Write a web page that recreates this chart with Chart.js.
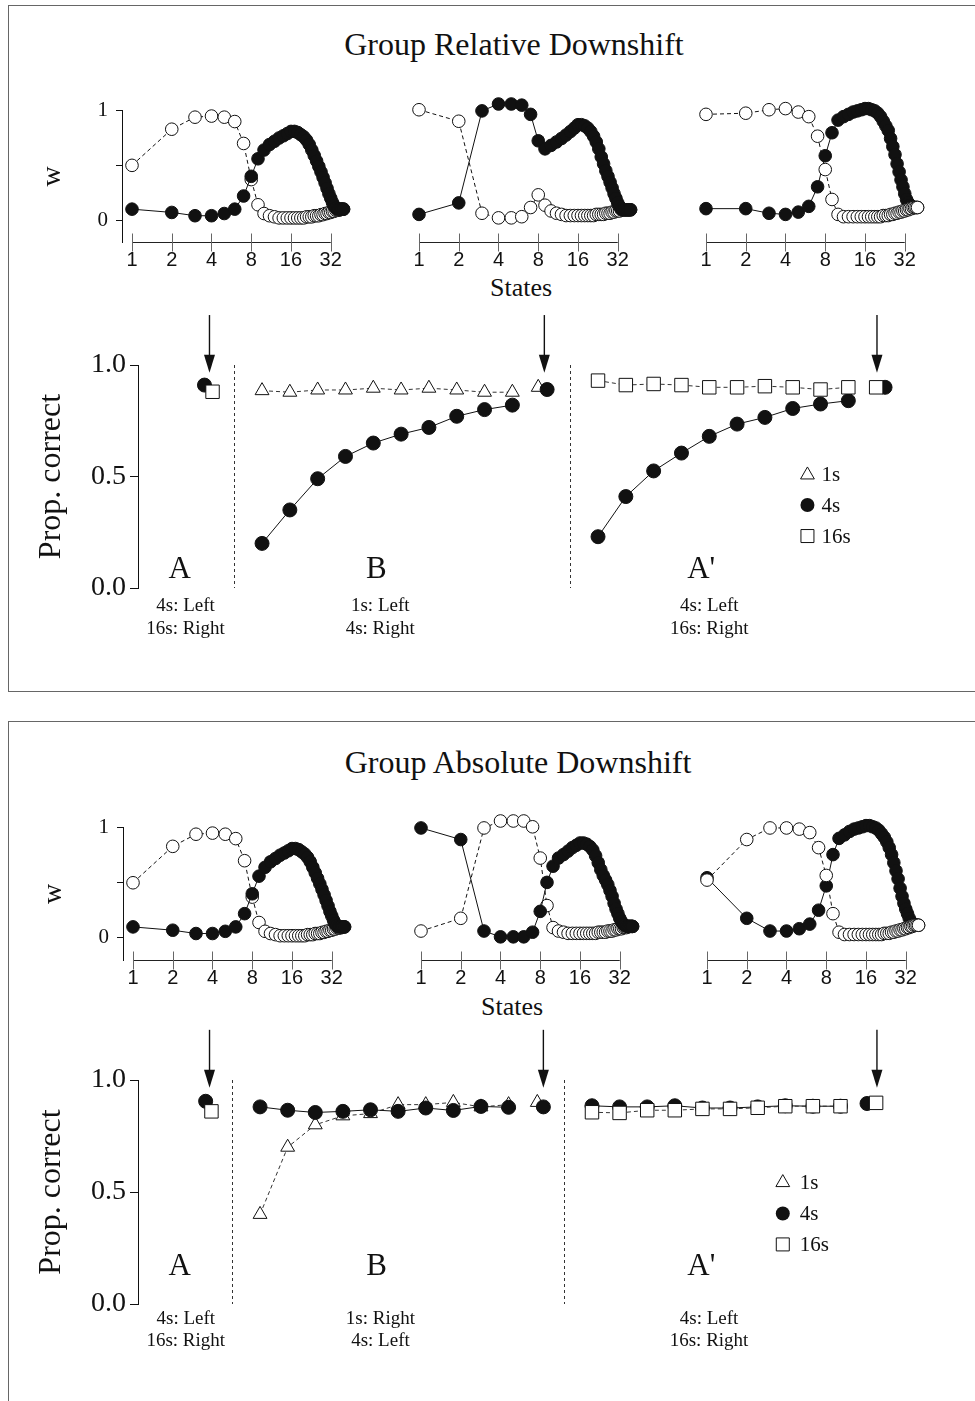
<!DOCTYPE html>
<html>
<head>
<meta charset="utf-8">
<title>Group Relative / Absolute Downshift</title>
<script src="https://cdn.jsdelivr.net/npm/chart.js@4.4.1/dist/chart.umd.min.js"></script>
<style>
  html, body { margin: 0; padding: 0; background: #fff; }
  body { position: relative; width: 975px; height: 1401px; overflow: hidden; font-family: "Liberation Serif", "Times New Roman", serif; color: #111; }
  .panel { position: absolute; left: 8px; width: 990px; border: 1px solid #666; }
  .label { position: absolute; transform: translate(-50%, -50%); white-space: nowrap; }
  .title { font-size: 32px; }
  .states { font-size: 26px; }
  canvas { position: absolute; }
</style>
</head>
<body>
<div class="panel" style="top:5px;height:685px"></div>
<div class="panel" style="top:721px;height:700px"></div>

<div class="label title" style="left:514px;top:44px">Group Relative Downshift</div>
<div class="label states" style="left:521px;top:288px">States</div>
<div class="label title" style="left:518px;top:762px">Group Absolute Downshift</div>
<div class="label states" style="left:512px;top:1007px">States</div>

<canvas id="relWA"  width="332" height="192" style="left:30px;top:90px"></canvas>
<canvas id="relWB"  width="332" height="192" style="left:317px;top:90px"></canvas>
<canvas id="relWA2" width="332" height="192" style="left:604px;top:90px"></canvas>
<canvas id="relProp" width="947" height="343" style="left:18px;top:305px"></canvas>

<canvas id="absWA"  width="332" height="193" style="left:31px;top:807px"></canvas>
<canvas id="absWB"  width="332" height="193" style="left:319px;top:807px"></canvas>
<canvas id="absWA2" width="332" height="193" style="left:605px;top:807px"></canvas>
<canvas id="absProp" width="947" height="344" style="left:18px;top:1020px"></canvas>

<script>
// ---- data ----
const states = [1, 2, 3, 4, 5, 6, 7, 8, 9, 10, 11, 12, 13, 14, 15, 16, 17, 18, 19, 20,
  21, 22, 23, 24, 25, 26, 27, 28, 29, 30, 31, 32, 33, 34, 35, 36, 37, 38, 39, 40];
const tickStates = [1, 2, 4, 8, 16, 32];
const wTicks = [0, 0.5, 1];
const propTicks = [0, 0.5, 1];

// w curves, phase A (same baseline in both groups)
const baseA_filled = [0.10, 0.07, 0.04, 0.04, 0.06, 0.10, 0.22, 0.40, 0.56, 0.64,
  0.69, 0.72, 0.75, 0.77, 0.79, 0.81, 0.81, 0.80, 0.78, 0.76,
  0.73, 0.69, 0.64, 0.59, 0.54, 0.49, 0.44, 0.39, 0.34, 0.29,
  0.24, 0.20, 0.16, 0.13, 0.11, 0.10, 0.10, 0.10, 0.10, 0.10];
const baseA_open = [0.50, 0.83, 0.94, 0.95, 0.94, 0.90, 0.70, 0.37, 0.14, 0.06,
  0.04, 0.03, 0.02, 0.02, 0.02, 0.02, 0.02, 0.02, 0.02, 0.02,
  0.03, 0.03, 0.03, 0.04, 0.04, 0.04, 0.05, 0.05, 0.06, 0.06,
  0.07, 0.07, 0.08, 0.08, 0.09, 0.09, 0.09, 0.10, 0.10, 0.10];

// relative downshift, phase B and A'
const relB_filled = [0.04, 0.14, 0.94, 1.00, 1.00, 0.99, 0.91, 0.68, 0.61, 0.64,
  0.67, 0.70, 0.73, 0.76, 0.79, 0.82, 0.82, 0.81, 0.79, 0.76,
  0.72, 0.67, 0.61, 0.54, 0.48, 0.42, 0.37, 0.32, 0.27, 0.22,
  0.18, 0.14, 0.11, 0.09, 0.08, 0.08, 0.08, 0.08, 0.08, 0.08];
const relB_open = [0.95, 0.85, 0.05, 0.01, 0.01, 0.02, 0.10, 0.21, 0.12, 0.07,
  0.05, 0.04, 0.03, 0.03, 0.03, 0.03, 0.03, 0.03, 0.03, 0.03,
  0.03, 0.04, 0.04, 0.04, 0.04, 0.05, 0.05, 0.05, 0.06, 0.06,
  0.07, 0.07, 0.07, 0.08, 0.08, 0.08, 0.08, 0.08, 0.08, 0.08];
const relA2_filled = [0.09, 0.09, 0.05, 0.04, 0.06, 0.11, 0.28, 0.55, 0.75, 0.86,
  0.89, 0.91, 0.93, 0.94, 0.95, 0.96, 0.96, 0.95, 0.94, 0.92,
  0.89, 0.85, 0.81, 0.77, 0.70, 0.63, 0.56, 0.48, 0.41, 0.34,
  0.28, 0.22, 0.17, 0.14, 0.12, 0.11, 0.10, 0.10, 0.10, 0.10];
const relA2_open = [0.91, 0.92, 0.95, 0.96, 0.93, 0.89, 0.72, 0.43, 0.17, 0.04,
  0.02, 0.02, 0.02, 0.02, 0.02, 0.02, 0.02, 0.02, 0.02, 0.02,
  0.02, 0.03, 0.03, 0.03, 0.04, 0.04, 0.05, 0.05, 0.06, 0.06,
  0.07, 0.07, 0.08, 0.08, 0.09, 0.09, 0.10, 0.10, 0.10, 0.10];

// absolute downshift, phase B and A'
const absB_filled = [0.94, 0.84, 0.05, 0.00, 0.00, 0.00, 0.04, 0.22, 0.47, 0.61,
  0.68, 0.71, 0.74, 0.77, 0.79, 0.81, 0.81, 0.80, 0.78, 0.75,
  0.70, 0.64, 0.58, 0.53, 0.49, 0.45, 0.40, 0.35, 0.29, 0.24,
  0.20, 0.16, 0.13, 0.11, 0.10, 0.09, 0.09, 0.09, 0.09, 0.09];
const absB_open = [0.05, 0.16, 0.94, 1.00, 1.00, 1.00, 0.95, 0.68, 0.27, 0.08,
  0.05, 0.04, 0.03, 0.03, 0.03, 0.03, 0.03, 0.03, 0.03, 0.03,
  0.03, 0.04, 0.04, 0.04, 0.04, 0.05, 0.05, 0.05, 0.06, 0.06,
  0.07, 0.07, 0.07, 0.08, 0.08, 0.08, 0.09, 0.09, 0.09, 0.09];
const absA2_filled = [0.51, 0.16, 0.05, 0.05, 0.07, 0.11, 0.23, 0.44, 0.71, 0.85,
  0.88, 0.91, 0.93, 0.94, 0.95, 0.96, 0.96, 0.95, 0.94, 0.92,
  0.89, 0.86, 0.82, 0.77, 0.71, 0.64, 0.57, 0.50, 0.42, 0.35,
  0.29, 0.24, 0.20, 0.16, 0.13, 0.11, 0.10, 0.10, 0.10, 0.10];
const absA2_open = [0.49, 0.84, 0.94, 0.94, 0.93, 0.90, 0.77, 0.53, 0.20, 0.04,
  0.02, 0.02, 0.02, 0.02, 0.02, 0.02, 0.02, 0.02, 0.02, 0.02,
  0.02, 0.03, 0.03, 0.03, 0.04, 0.04, 0.05, 0.05, 0.06, 0.06,
  0.07, 0.07, 0.08, 0.08, 0.09, 0.09, 0.10, 0.10, 0.10, 0.10];

// proportion correct, relative group
const relA_4s = [0.91];
const relA_16s = [0.88];
const relB_1s = [0.885, 0.878, 0.888, 0.888, 0.896, 0.888, 0.896, 0.888, 0.878, 0.878];
const relB_4s = [0.20, 0.35, 0.49, 0.59, 0.65, 0.69, 0.72, 0.77, 0.80, 0.82];
const relBend_1s = [0.90];
const relBend_4s = [0.89];
const relA2_16s = [0.93, 0.91, 0.915, 0.91, 0.90, 0.90, 0.905, 0.90, 0.89, 0.90];
const relA2_4s = [0.23, 0.41, 0.525, 0.605, 0.68, 0.735, 0.765, 0.805, 0.825, 0.84];
const relA2end_16s = [0.90];
const relA2end_4s = [0.90];

// proportion correct, absolute group
const absA_4s = [0.905];
const absA_16s = [0.86];
const absB_1s = [0.40, 0.70, 0.80, 0.84, 0.85, 0.89, 0.89, 0.90, 0.88, 0.89];
const absB_4s = [0.88, 0.865, 0.855, 0.86, 0.867, 0.86, 0.875, 0.864, 0.882, 0.878];
const absBend_1s = [0.90];
const absBend_4s = [0.88];
const absA2_16s = [0.856, 0.853, 0.865, 0.865, 0.871, 0.871, 0.876, 0.883, 0.883, 0.883];
const absA2_4s = [0.885, 0.88, 0.88, 0.885, 0.875, 0.875, 0.88, 0.885, 0.883, 0.883];
const absA2end_16s = [0.898];
const absA2end_4s = [0.895];

const phaseNames = ['A', 'B', "A'"];
const relKeys = [['4s: Left', '16s: Right'], ['1s: Left', '4s: Right'], ['4s: Left', '16s: Right']];
const absKeys = [['4s: Left', '16s: Right'], ['1s: Right', '4s: Left'], ['4s: Left', '16s: Right']];
const legendLabels = ['1s', '4s', '16s'];

// ---- setup ----
const SERIF = '"Liberation Serif", "Times New Roman", serif';
const SANS = '"Liberation Sans", Arial, sans-serif';
const INK = '#111';
Chart.defaults.animation = false;
Chart.defaults.color = INK;

// x axis of the state plots: line from 1 to 32, ticks crossing it
const stateAxis = {
  id: 'stateAxis',
  beforeDatasetsDraw(chart) {
    const { ctx, chartArea, scales: { x } } = chart;
    const y0 = Math.round(chartArea.bottom) + 0.5;
    ctx.save();
    ctx.strokeStyle = '#222';
    ctx.lineWidth = 1;
    ctx.beginPath();
    ctx.moveTo(x.getPixelForValue(1), y0);
    ctx.lineTo(x.getPixelForValue(32), y0);
    ctx.stroke();
    ctx.strokeStyle = '#666';
    tickStates.forEach(v => {
      const px = Math.round(x.getPixelForValue(v)) + 0.5;
      ctx.beginPath();
      ctx.moveTo(px, y0 - 9);
      ctx.lineTo(px, y0 + 9);
      ctx.stroke();
    });
    ctx.restore();
  }
};

function wChart(id, filled, open, showY, openOnTop) {
  const pts = arr => states.map((s, i) => ({ x: s, y: arr[i] }));
  const dsFilled = {
    data: pts(filled), showLine: true, clip: false,
    borderColor: INK, borderWidth: 1,
    pointRadius: 6.3, pointBackgroundColor: INK, pointBorderColor: INK, pointBorderWidth: 1
  };
  const dsOpen = {
    data: pts(open), showLine: true, clip: false,
    borderColor: INK, borderWidth: 1, borderDash: [4, 3],
    pointRadius: 6.3, pointBackgroundColor: '#fff', pointBorderColor: INK, pointBorderWidth: 1
  };
  new Chart(document.getElementById(id), {
    type: 'scatter',
    data: { datasets: openOnTop ? [dsOpen, dsFilled] : [dsFilled, dsOpen] },
    options: {
      responsive: false,
      events: [],
      layout: { padding: { top: 14, right: 8, left: 0, bottom: 0 } },
      plugins: { legend: { display: false }, tooltip: { enabled: false } },
      scales: {
        x: {
          type: 'logarithmic', min: 0.84, max: 48,
          afterBuildTicks: s => { s.ticks = tickStates.map(v => ({ value: v })); },
          afterFit: s => { s.height = 40; },
          grid: { display: false, drawTicks: false },
          border: { display: false },
          ticks: { callback: v => String(v), font: { family: SANS, size: 20 }, color: INK, padding: 6, maxRotation: 0, autoSkip: false }
        },
        y: {
          min: -0.2, max: 1,
          afterBuildTicks: s => { s.ticks = wTicks.map(v => ({ value: v })); },
          afterFit: s => { s.width = 92; },
          grid: { display: showY, drawOnChartArea: false, tickLength: 6, color: INK },
          border: { display: showY, color: INK },
          ticks: { display: showY, callback: v => (v === 0.5 ? '' : String(v)), font: { family: SERIF, size: 21 }, color: INK, padding: 8 },
          title: { display: showY, text: 'w', font: { family: SERIF, size: 28 }, color: INK, padding: { top: 6, bottom: 0 } }
        }
      }
    },
    plugins: [stateAxis]
  });
}

// dividers, arrows, phase names, key lines and legend of the proportion plots
function decor(L) {
  return {
    id: 'decor',
    afterDatasetsDraw(chart) {
      const { ctx, chartArea: a, scales: { x, y } } = chart;
      ctx.save();
      ctx.strokeStyle = '#333';
      ctx.lineWidth = 1;
      ctx.setLineDash([3, 3]);
      L.dividers.forEach(s => {
        const px = Math.round(x.getPixelForValue(s)) + 0.5;
        ctx.beginPath();
        ctx.moveTo(px, y.getPixelForValue(1));
        ctx.lineTo(px, y.getPixelForValue(0));
        ctx.stroke();
      });
      ctx.setLineDash([]);

      ctx.fillStyle = INK;
      ctx.strokeStyle = INK;
      ctx.lineWidth = 1.4;
      L.arrows.forEach(s => {
        const px = x.getPixelForValue(s);
        const top = y.getPixelForValue(1.224), tip = y.getPixelForValue(0.965);
        ctx.beginPath();
        ctx.moveTo(px, top);
        ctx.lineTo(px, tip - 12);
        ctx.stroke();
        ctx.beginPath();
        ctx.moveTo(px - 5.5, tip - 18);
        ctx.lineTo(px + 5.5, tip - 18);
        ctx.lineTo(px, tip);
        ctx.closePath();
        ctx.fill();
      });

      ctx.textAlign = 'center';
      ctx.textBaseline = 'middle';
      ctx.font = '31px ' + SERIF;
      phaseNames.forEach((t, i) => ctx.fillText(t, x.getPixelForValue(L.letterX[i]), y.getPixelForValue(L.letterY)));
      ctx.font = '19px ' + SERIF;
      L.keys.forEach((lines, i) => {
        const px = x.getPixelForValue(L.keyX[i]);
        lines.forEach((t, j) => ctx.fillText(t, px, a.bottom + L.keyDy[j]));
      });

      // legend
      ctx.font = '21px ' + SERIF;
      ctx.textAlign = 'left';
      const lx = x.getPixelForValue(L.legendX);
      ctx.lineWidth = 1;
      legendLabels.forEach((t, i) => {
        const ly = y.getPixelForValue(L.legendY[i]);
        ctx.beginPath();
        if (i === 0) {
          ctx.moveTo(lx, ly - 8);
          ctx.lineTo(lx + 6.9, ly + 4);
          ctx.lineTo(lx - 6.9, ly + 4);
          ctx.closePath();
          ctx.fillStyle = '#fff';
          ctx.fill();
          ctx.stroke();
        } else if (i === 1) {
          ctx.arc(lx, ly, 7, 0, Math.PI * 2);
          ctx.fillStyle = INK;
          ctx.fill();
        } else {
          ctx.rect(lx - 6.5, ly - 6.5, 13, 13);
          ctx.fillStyle = '#fff';
          ctx.fill();
          ctx.stroke();
        }
        ctx.fillStyle = INK;
        ctx.fillText(t, lx + L.legendDx, ly + 1);
      });
      ctx.restore();
    }
  };
}

function propChart(id, d, L) {
  const run = (start, vals) => vals.map((v, i) => ({ x: start + i, y: v }));
  const join = (...segs) => {
    const out = [];
    segs.forEach((s, k) => {
      if (k) out.push({ x: s[0].x, y: null });
      out.push(...s);
    });
    return out;
  };
  const squares = {
    data: join(run(L.aSq, d.A_16s), run(L.a2Start, d.A2_16s), run(L.a2EndSq, d.A2end_16s)),
    showLine: true, clip: false, borderColor: '#333', borderWidth: 1, borderDash: [4, 3],
    pointStyle: 'rect', pointRadius: 9.5, pointBackgroundColor: '#fff', pointBorderColor: INK, pointBorderWidth: 1
  };
  const filled = {
    data: join(run(L.aCirc, d.A_4s), run(L.bStart, d.B_4s), run(L.bEndCirc, d.Bend_4s),
      run(L.a2Start, d.A2_4s), run(L.a2EndCirc, d.A2end_4s)),
    showLine: true, clip: false, borderColor: INK, borderWidth: 1,
    pointStyle: 'circle', pointRadius: 7, pointBackgroundColor: INK, pointBorderColor: INK, pointBorderWidth: 1
  };
  const triangles = {
    data: join(run(L.bStart, d.B_1s), run(L.bEndTri, d.Bend_1s)),
    showLine: true, clip: false, borderColor: '#333', borderWidth: 1, borderDash: [4, 3],
    pointStyle: 'triangle', pointRadius: 8, pointBackgroundColor: '#fff', pointBorderColor: INK, pointBorderWidth: 1
  };
  const el = document.getElementById(id);
  const yW = 120, padR = 5;
  const xMax = (el.width - yW - padR) / L.slot;
  new Chart(el, {
    type: 'scatter',
    data: { datasets: [squares, filled, triangles] },
    options: {
      responsive: false,
      events: [],
      layout: { padding: { top: 60, bottom: 60, left: 0, right: padR } },
      plugins: { legend: { display: false }, tooltip: { enabled: false } },
      scales: {
        x: { display: false, min: 0, max: xMax },
        y: {
          min: 0, max: 1,
          afterBuildTicks: s => { s.ticks = propTicks.map(v => ({ value: v })); },
          afterFit: s => { s.width = yW; },
          grid: { drawOnChartArea: false, tickLength: 8, color: INK },
          border: { color: INK },
          ticks: { callback: v => v.toFixed(1), font: { family: SERIF, size: 28 }, color: INK, padding: 4 },
          title: { display: true, text: 'Prop. correct', font: { family: SERIF, size: 32 }, color: INK, padding: { top: 14, bottom: 0 } }
        }
      }
    },
    plugins: [decor(L)]
  });
}

// ---- draw ----
wChart('relWA', baseA_filled, baseA_open, true, false);
wChart('relWB', relB_filled, relB_open, false, false);
wChart('relWA2', relA2_filled, relA2_open, false, true);
wChart('absWA', baseA_filled, baseA_open, true, false);
wChart('absWB', absB_filled, absB_open, false, false);
wChart('absWA2', absA2_filled, absA2_open, false, true);

propChart('relProp', {
  A_4s: relA_4s, A_16s: relA_16s, B_1s: relB_1s, B_4s: relB_4s, Bend_1s: relBend_1s, Bend_4s: relBend_4s,
  A2_16s: relA2_16s, A2_4s: relA2_4s, A2end_16s: relA2end_16s, A2end_4s: relA2end_4s
}, {
  slot: 28, aCirc: 2.39, aSq: 2.68, bStart: 4.46, bEndTri: 14.39, bEndCirc: 14.71,
  a2Start: 16.54, a2EndSq: 26.54, a2EndCirc: 26.86,
  dividers: [3.46, 15.54], arrows: [2.57, 14.61, 26.57],
  letterX: [1.5, 8.57, 20.25], letterY: 0.08,
  keys: relKeys, keyX: [1.71, 8.71, 20.54], keyDy: [18, 41],
  legendX: 24.07, legendY: [0.507, 0.372, 0.233], legendDx: 14
});

propChart('absProp', {
  A_4s: absA_4s, A_16s: absA_16s, B_1s: absB_1s, B_4s: absB_4s, Bend_1s: absBend_1s, Bend_4s: absBend_4s,
  A2_16s: absA2_16s, A2_4s: absA2_4s, A2end_16s: absA2end_16s, A2end_4s: absA2end_4s
}, {
  slot: 27.8, aCirc: 2.45, aSq: 2.66, bStart: 4.42, bEndTri: 14.46, bEndCirc: 14.68,
  a2Start: 16.44, a2EndSq: 26.73, a2EndCirc: 26.4,
  dividers: [3.42, 15.43], arrows: [2.59, 14.68, 26.76],
  letterX: [1.51, 8.64, 20.4], letterY: 0.165,
  keys: absKeys, keyX: [1.73, 8.78, 20.68], keyDy: [15, 37],
  legendX: 23.35, legendY: [0.542, 0.404, 0.266], legendDx: 17
});
</script>
</body>
</html>
